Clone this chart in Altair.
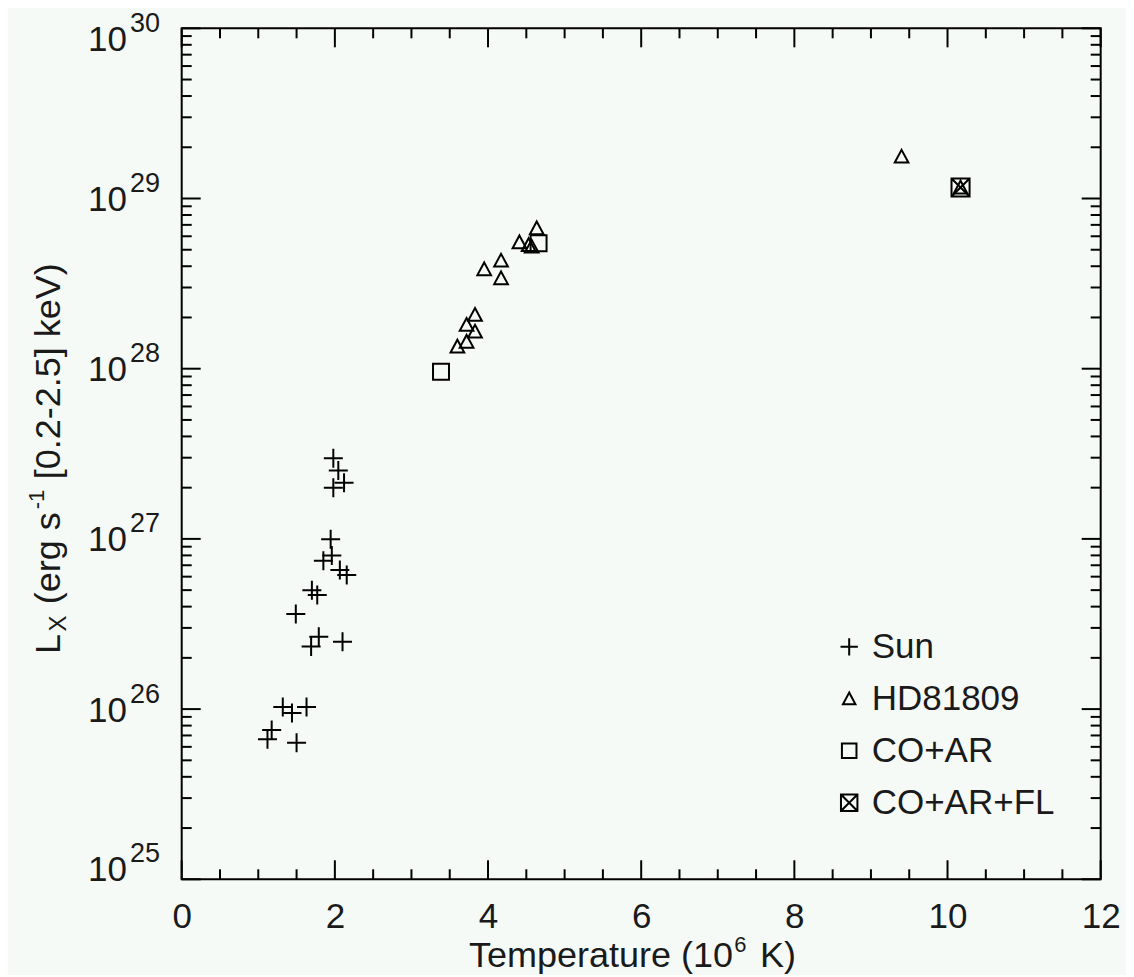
import altair as alt
import pandas as pd

# ---------------- data ----------------
sun_T = [1.98, 2.045, 2.12, 1.98, 1.945, 1.96, 1.85, 2.065, 2.155, 1.70, 1.77,
         1.49, 1.79, 1.69, 2.10, 1.32, 1.44, 1.63, 1.175, 1.12, 1.50]
sun_L = [2.98e27, 2.52e27, 2.14e27, 2.0e27, 9.95e26, 8.0e26, 7.45e26, 6.56e26, 6.14e26,
         5.0e26, 4.68e26, 3.62e26, 2.66e26, 2.33e26, 2.49e26, 1.03e26, 9.5e25, 1.03e26,
         7.54e25, 6.65e25, 6.35e25]

hd_T = [4.636, 4.41, 4.53, 4.57, 4.17, 3.95, 4.17, 3.83, 3.72, 3.83, 3.72, 3.60, 9.40, 10.17]
hd_L = [6.68e28, 5.53e28, 5.33e28, 5.21e28, 4.31e28, 3.84e28, 3.40e28, 2.07e28, 1.81e28,
        1.65e28, 1.44e28, 1.35e28, 1.76e29, 1.16e29]

coar_T = [4.66, 3.386]
coar_L = [5.46e28, 9.6e27]

fl_T = [10.17]
fl_L = [1.16e29]

series_names = ["Sun", "HD81809", "CO+AR", "CO+AR+FL"]

x_major = [0, 2, 4, 6, 8, 10, 12]
x_minor = [0.5, 1, 1.5, 2.5, 3, 3.5, 4.5, 5, 5.5, 6.5, 7, 7.5, 8.5, 9, 9.5, 10.5, 11, 11.5]
y_major = [1e25, 1e26, 1e27, 1e28, 1e29, 1e30]
y_exponents = ["25", "26", "27", "28", "29", "30"]
y_label_shift = [-11, 0, 0, 0, 0, 10]   # end labels pulled inward, as in the original
y_minor = [m * 10.0 ** e for e in range(25, 30) for m in range(2, 10)]

# ---------------- layout ----------------
W, H = 919, 851
FONT = "Liberation Sans"
INK = "#1a1a1a"
BG = "#f6faf7"
MAJ, MIN = 19, 10

PLUS = "M-1,0L1,0M0,-1L0,1"
TRI = "M0,-0.72L0.72,0.62L-0.72,0.62Z"
SQ = "M-0.84,-0.84L0.84,-0.84L0.84,0.84L-0.84,0.84Z"
XSQ = "M-0.95,-0.95L0.95,-0.95L0.95,0.95L-0.95,0.95ZM-0.95,-0.95L0.95,0.95M0.95,-0.95L-0.95,0.95"

xscale = alt.Scale(domain=[0, 12], nice=False, zero=False)
yscale = alt.Scale(type="log", domain=[1e25, 1e30], nice=False)
xaxis = alt.Axis(title=None, values=x_major, format="d", ticks=False, tickSize=0,
                 domain=False, grid=False, labelFontSize=35, labelFont=FONT,
                 labelColor=INK, labelPadding=20, labelFlush=False, labelOverlap=False,
                 labelBound=False)
yaxis = alt.Axis(title=None, labels=False, ticks=False, domain=False, grid=False)

rows = []
for name, T, L in [("Sun", sun_T, sun_L), ("HD81809", hd_T, hd_L),
                   ("CO+AR", coar_T, coar_L), ("CO+AR+FL", fl_T, fl_L)]:
    for t, l in zip(T, L):
        rows.append({"T": t, "L": l, "series": name})
df = pd.DataFrame(rows)

points = alt.Chart(df).mark_point(filled=False, strokeWidth=2, color="black",
                                  size=361, opacity=1).encode(
    x=alt.X("T:Q", scale=xscale, axis=xaxis),
    y=alt.Y("L:Q", scale=yscale, axis=yaxis),
    shape=alt.Shape("series:N",
                    scale=alt.Scale(domain=series_names, range=[PLUS, TRI, SQ, XSQ]),
                    legend=alt.Legend(title=None, orient="none", legendX=650, legendY=601,
                                      labelFontSize=35, labelFont=FONT, labelColor=INK,
                                      labelLimit=0,
                                      symbolSize=300, symbolStrokeWidth=2,
                                      symbolStrokeColor="black",
                                      symbolFillColor="transparent",
                                      rowPadding=16, labelOffset=5, padding=0)),
)


def xticks(vals, length, top):
    d = pd.DataFrame({"T": vals})
    y0 = 0 if top else H
    y1 = length if top else H - length
    return alt.Chart(d).mark_rule(color="black", strokeWidth=2).encode(
        x=alt.X("T:Q", scale=xscale, axis=xaxis), y=alt.value(y0), y2=alt.value(y1))


def yticks(vals, length, right):
    d = pd.DataFrame({"L": vals})
    x0 = W if right else 0
    x1 = W - length if right else length
    return alt.Chart(d).mark_rule(color="black", strokeWidth=2).encode(
        y=alt.Y("L:Q", scale=yscale, axis=yaxis), x=alt.value(x0), x2=alt.value(x1))


ticks = [xticks(x_major, MAJ, False), xticks(x_minor, MIN, False),
         xticks(x_major, MAJ, True), xticks(x_minor, MIN, True),
         yticks(y_major, MAJ, False), yticks(y_minor, MIN, False),
         yticks(y_major, MAJ, True), yticks(y_minor, MIN, True)]

ylab = pd.DataFrame({"L": y_major, "base": ["10"] * len(y_major), "exp": y_exponents,
                     "shift": y_label_shift})

ylabels = []
for s in sorted(set(y_label_shift)):
    sub = ylab[ylab["shift"] == s]
    ylabels.append(alt.Chart(sub).mark_text(align="right", baseline="alphabetic",
                                            dy=12.5 + s, fontSize=35, font=FONT,
                                            color=INK).encode(
        y=alt.Y("L:Q", scale=yscale, axis=yaxis), x=alt.value(-54.7), text="base:N"))
    ylabels.append(alt.Chart(sub).mark_text(align="left", baseline="alphabetic",
                                            dy=-6.5 + s, fontSize=27, font=FONT,
                                            color=INK).encode(
        y=alt.Y("L:Q", scale=yscale, axis=yaxis), x=alt.value(-51.7), text="exp:N"))


def piece(txt, x, y, size, align="left", angle=0):
    return alt.Chart(pd.DataFrame({"t": [txt]})).mark_text(
        align=align, baseline="alphabetic", fontSize=size, font=FONT, color=INK,
        angle=angle).encode(x=alt.value(x), y=alt.value(y), text="t:N")


titles = [
    piece("Temperature (10", 551.3, 938.7, 36, align="right"),
    piece("6", 552.5, 923.7, 22),
    piece("K)", 578.3, 938.7, 36),
    piece("L", -121.7, 625.7, 36, angle=270),
    piece("X", -115.7, 603.2, 24, angle=270),
    piece("(erg s", -121.7, 576.0, 36, angle=270),
    piece("-1", -137.7, 481.0, 22, angle=270),
    piece("[0.2-2.5] keV)", -121.7, 451.0, 36, angle=270),
]

chart = alt.layer(points, *ticks, *ylabels, *titles).properties(
    width=W, height=H,
    padding={"left": 173.7, "top": 20.3, "right": 25, "bottom": 96},
    autosize=alt.AutoSizeParams(type="none"),
    background=BG,
).configure_view(stroke="black", strokeWidth=2)

chart.save("out.html", embed_options={"renderer": "svg", "actions": False})
